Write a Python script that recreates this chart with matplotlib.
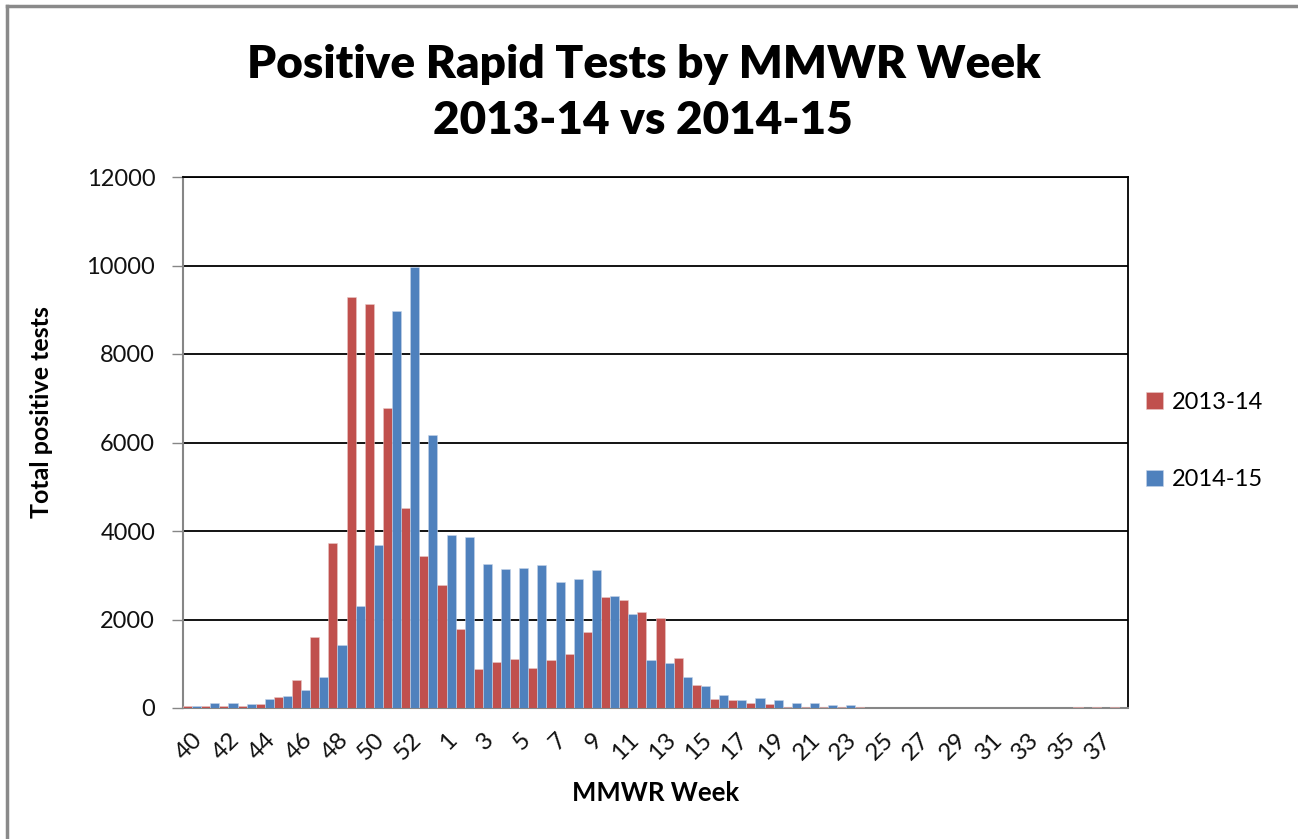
import numpy as np
import matplotlib
matplotlib.use('Agg')
from matplotlib import pyplot as plt
from matplotlib.lines import Line2D

# MMWR weeks on the category axis (season runs week 40 -> week 38)
weeks = list(range(40, 54)) + list(range(1, 39))

# positive rapid tests
season_1314 = [40, 40, 40, 40, 90, 240, 640, 1610, 3720, 9290, 9125, 6770, 4510, 3430,
               2790, 1780, 880, 1050, 1115, 910, 1080, 1230, 1720, 2500, 2445, 2180,
               2040, 1140, 530, 205, 170, 110, 90, 30, 30, 30, 15, 30,
               0, 0, 0, 0, 0, 0, 0, 0, 0, 0, 0, 30, 30, 30]
season_1415 = [40, 120, 120, 90, 200, 270, 415, 710, 1430, 2300, 3690, 8975, 9960, 6160,
               3920, 3870, 3260, 3140, 3170, 3230, 2850, 2905, 3110, 2530, 2130, 1080,
               1025, 700, 495, 295, 175, 235, 175, 115, 115, 60, 60, 0,
               0, 0, 0, 0, 0, 0, 0, 0, 0, 0, 0, 0, 0, 0]
series_names = ['2013-14', '2014-15']

RED = '#C0504D'
BLUE = '#4F81BD'
plt.rcParams['font.family'] = ['Lato', 'DejaVu Sans']

fig = plt.figure(figsize=(12.98, 8.39), dpi=100)
ax = fig.add_axes([183 / 1298, 1 - 708 / 839, (1128 - 183) / 1298, (708 - 177) / 839])

x = np.arange(len(weeks))
b1 = ax.bar(x - 0.25, season_1314, width=0.5, color=RED, edgecolor='#e8c8c7', linewidth=0.4, zorder=3)
b2 = ax.bar(x + 0.25, season_1415, width=0.5, color=BLUE, edgecolor='#c6d4e8', linewidth=0.4, zorder=3)

ax.set_xlim(-0.5, len(weeks) - 0.5)
ax.set_ylim(0, 12000)
ax.set_yticks(range(0, 12001, 2000))
ax.yaxis.grid(True, color='black', linewidth=1.3, zorder=1)

ax.set_xticks(x[::2])
ax.set_xticklabels([str(w) for w in weeks[::2]], rotation=45, ha='right', va='top',
                   rotation_mode='anchor', fontsize=17.5, color='#111111')
ax.tick_params(axis='x', length=0, pad=15)
ax.tick_params(axis='y', length=8, color='#868686', width=1, labelsize=17, pad=12,
               labelcolor='#111111')

for s in ['left', 'bottom']:
    ax.spines[s].set_color('#868686')
    ax.spines[s].set_linewidth(1.5)
ax.spines['top'].set_color('black')
ax.spines['right'].set_color('black')
ax.spines['right'].set_linewidth(1.3)
ax.spines['top'].set_linewidth(1.3)

fig.text(644 / 1298, 1 - 78 / 839, 'Positive Rapid Tests by MMWR Week',
         ha='center', va='baseline', fontsize=33, fontweight='heavy')
fig.text(643 / 1298, 1 - 134 / 839, '2013-14 vs 2014-15',
         ha='center', va='baseline', fontsize=33, fontweight='heavy')
fig.text(656 / 1298, 1 - 793 / 839, 'MMWR Week', ha='center', va='center',
         fontsize=18.5, fontweight='bold')
fig.text(42 / 1298, 1 - 412 / 839, 'Total positive tests', ha='center', va='center',
         rotation=90, fontsize=18, fontweight='bold')

fig.legend([b1, b2], series_names, loc='center left',
           bbox_to_anchor=(1146 / 1298, 1 - 441 / 839), frameon=False,
           fontsize=17, handlelength=0.7, handleheight=0.7, handletextpad=0.4,
           labelspacing=2.4, borderpad=0, borderaxespad=0)

# chart-area frame (only the top and left edges fall inside the image)
fig.add_artist(Line2D([7 / 1298, 7 / 1298], [0, 1 - 6 / 839], transform=fig.transFigure,
                      color='#8a8a8a', linewidth=2.5))
fig.add_artist(Line2D([7 / 1298, 1], [1 - 6 / 839, 1 - 6 / 839], transform=fig.transFigure,
                      color='#8a8a8a', linewidth=2.5))

fig.savefig('out.png', dpi=100)
